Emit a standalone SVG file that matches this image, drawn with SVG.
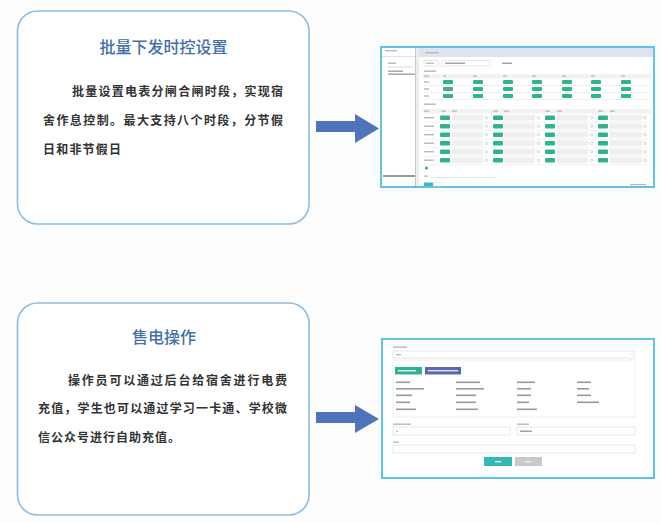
<svg xmlns="http://www.w3.org/2000/svg" xmlns:xlink="http://www.w3.org/1999/xlink" width="661" height="523" viewBox="0 0 661 523">
<style>
.card{fill:#ffffff;stroke:#8dbde3;stroke-width:1.6}
.title{font-family:"Noto Sans CJK SC","Noto Sans",sans-serif;font-size:16px;fill:#3f70aa;text-anchor:middle;font-weight:500}
.body{font-family:"Noto Sans CJK SC","Noto Sans",sans-serif;font-size:12px;fill:#333333;font-weight:700}
.arrow{fill:#4f74b9}
.frame{fill:#ffffff;stroke:#5ec3ea;stroke-width:2}
.tg{fill:#2fb48c}
.inp{fill:#efefef}
.bar{fill:#b8b8b8}
.dbar{fill:#9a9a9a}
.ln{stroke:#eeeeee;stroke-width:0.8;fill:none}
.plus{fill:none;stroke:#bbbbbb;stroke-width:0.6}
.box{fill:#ffffff;stroke:#e2e2e2;stroke-width:0.8}
</style>
<defs>
<g id="row1">
<rect class="bar" x="424" y="1.3" width="5" height="1.4"/>
<rect class="tg" x="443" y="0" width="10" height="4" rx="1"/>
<rect class="tg" x="473" y="0" width="10" height="4" rx="1"/>
<rect class="tg" x="503" y="0" width="10" height="4" rx="1"/>
<rect class="tg" x="532" y="0" width="10" height="4" rx="1"/>
<rect class="tg" x="562" y="0" width="10" height="4" rx="1"/>
<rect class="tg" x="591" y="0" width="10" height="4" rx="1"/>
<rect class="tg" x="621" y="0" width="10" height="4" rx="1"/>
<line class="ln" x1="423" y1="5.5" x2="650" y2="5.5"/>
</g>
<g id="row2">
<rect class="bar" x="424" y="1.5" width="10" height="1.4"/>
<rect class="tg" x="440" y="0" width="10" height="4.5" rx="1"/>
<rect class="inp" x="452" y="-0.5" width="31" height="5.5"/>
<circle class="plus" cx="486.5" cy="2.2" r="1.3"/>
<rect class="tg" x="493" y="0" width="10" height="4.5" rx="1"/>
<rect class="inp" x="504" y="-0.5" width="31" height="5.5"/>
<circle class="plus" cx="538.5" cy="2.2" r="1.3"/>
<rect class="tg" x="545" y="0" width="10" height="4.5" rx="1"/>
<rect class="inp" x="557" y="-0.5" width="31" height="5.5"/>
<circle class="plus" cx="591.5" cy="2.2" r="1.3"/>
<rect class="tg" x="598" y="0" width="10" height="4.5" rx="1"/>
<rect class="inp" x="610" y="-0.5" width="32" height="5.5"/>
<circle class="plus" cx="645" cy="2.2" r="1.3"/>
<line class="ln" x1="423" y1="6.7" x2="650" y2="6.7"/>
</g>
</defs>
<rect x="0" y="0" width="661" height="523" fill="#fdfdfd"/>

<g id="card1">
<rect class="card" x="17.5" y="11" width="291.5" height="213" rx="20"/>
<text class="title" x="163.5" y="53">批量下发时控设置</text>
<text class="body" x="72" y="96" textLength="211" lengthAdjust="spacing">批量设置电表分闸合闸时段，实现宿</text>
<text class="body" x="43" y="124.5" textLength="240" lengthAdjust="spacing">舍作息控制。最大支持八个时段，分节假</text>
<text class="body" x="43" y="153.5" textLength="78" lengthAdjust="spacing">日和非节假日</text>
</g>

<g id="card2">
<rect class="card" x="17.5" y="303" width="291.5" height="212" rx="20"/>
<text class="title" x="164" y="343">售电操作</text>
<text class="body" x="68" y="385" textLength="219" lengthAdjust="spacing">操作员可以通过后台给宿舍进行电费</text>
<text class="body" x="38" y="413" textLength="249" lengthAdjust="spacing">充值，学生也可以通过学习一卡通、学校微</text>
<text class="body" x="38" y="442" textLength="142" lengthAdjust="spacing">信公众号进行自助充值。</text>
</g>

<g id="connectors">
<polygon class="arrow" points="316,121 355,121 355,114 379,128.5 355,143 355,132 316,132"/>
<polygon class="arrow" points="316,412 355,412 355,405 379,419 355,433 355,423 316,423"/>
</g>

<g id="screen1">
<rect class="frame" x="381" y="47" width="273" height="140"/>
<!-- left panel -->
<rect class="bar" x="385" y="50" width="12" height="1.4"/>
<line x1="382" y1="56.5" x2="416" y2="56.5" stroke="#dddddd" stroke-width="0.8"/>
<rect class="bar" x="388" y="62.5" width="8" height="1.4"/>
<line x1="388" y1="67" x2="413" y2="67" stroke="#cfcfcf" stroke-width="0.8"/>
<rect class="dbar" x="388" y="70.5" width="15" height="1.3"/>
<rect class="dbar" x="388" y="73.5" width="27" height="1.3"/>
<rect x="415" y="48" width="1.2" height="138" fill="#c9c9c9"/>
<rect x="416.2" y="48" width="2.8" height="138" fill="#ededed"/>
<rect x="383" y="175" width="32" height="2" fill="#9a9a9a"/>
<!-- main -->
<rect x="419" y="48" width="234" height="9" fill="#dfe2f1"/>
<rect class="bar" x="425" y="52" width="14" height="1.4"/>
<rect class="box" x="424" y="60.5" width="14" height="5.5"/>
<rect class="bar" x="426" y="62.6" width="8" height="1.3"/>
<rect class="box" x="442" y="60.5" width="48" height="5.5"/>
<rect class="dbar" x="445" y="62.6" width="20" height="1.3"/>
<rect class="dbar" x="502" y="62.6" width="10" height="1.3"/>
<rect class="bar" x="424" y="70.5" width="12" height="1.4"/>
<rect x="423" y="74" width="228" height="4.5" fill="#f2f2f2"/>
<rect class="bar" x="424" y="75.5" width="5" height="1.3"/>
<rect class="bar" x="443" y="75.5" width="3" height="1.3"/>
<rect class="bar" x="473" y="75.5" width="4" height="1.3"/>
<rect class="bar" x="503" y="75.5" width="4" height="1.3"/>
<rect class="bar" x="532" y="75.5" width="4" height="1.3"/>
<rect class="bar" x="562" y="75.5" width="4" height="1.3"/>
<rect class="bar" x="591" y="75.5" width="4" height="1.3"/>
<rect class="bar" x="621" y="75.5" width="4" height="1.3"/>
<use xlink:href="#row1" href="#row1" y="80"/>
<use xlink:href="#row1" href="#row1" y="87"/>
<use xlink:href="#row1" href="#row1" y="94"/>
<rect class="bar" x="424" y="103.5" width="12" height="1.4"/>
<rect x="423" y="109" width="228" height="4.5" fill="#f2f2f2"/>
<rect class="bar" x="424" y="110.5" width="5" height="1.3"/>
<rect class="bar" x="441" y="110.5" width="5" height="1.3"/>
<rect class="bar" x="452" y="110.5" width="5" height="1.3"/>
<rect class="bar" x="493" y="110.5" width="5" height="1.3"/>
<rect class="bar" x="504" y="110.5" width="5" height="1.3"/>
<rect class="bar" x="545" y="110.5" width="5" height="1.3"/>
<rect class="bar" x="557" y="110.5" width="5" height="1.3"/>
<rect class="bar" x="598" y="110.5" width="5" height="1.3"/>
<rect class="bar" x="610" y="110.5" width="5" height="1.3"/>
<use xlink:href="#row2" href="#row2" y="115.5"/>
<use xlink:href="#row2" href="#row2" y="124"/>
<use xlink:href="#row2" href="#row2" y="132.5"/>
<use xlink:href="#row2" href="#row2" y="141"/>
<use xlink:href="#row2" href="#row2" y="149.5"/>
<use xlink:href="#row2" href="#row2" y="158"/>
<circle cx="426.5" cy="168" r="1.6" fill="#2fb48c"/>
<rect class="bar" x="424" y="175.5" width="4" height="1.3"/>
<line x1="430" y1="177.5" x2="495" y2="177.5" stroke="#e0e0e0" stroke-width="0.8"/>
<rect x="424" y="182.5" width="9" height="3.5" fill="#3bbcb3"/>
<rect x="434" y="182.5" width="8" height="3.5" fill="#ffffff" stroke="#dddddd" stroke-width="0.5"/>
<rect class="bar" x="630" y="184" width="16" height="1.2"/>
</g>

<g id="screen2">
<rect class="frame" x="382" y="339" width="272" height="139"/>
<rect class="bar" x="393" y="346.5" width="14" height="1.4"/>
<rect class="box" x="393" y="351" width="242" height="7"/>
<rect class="bar" x="396" y="354" width="5" height="1.4"/>
<path d="M631 354 l1.2 1.2 l1.2 -1.2" fill="none" stroke="#bbbbbb" stroke-width="0.6"/>
<rect x="393" y="360" width="242" height="57" fill="#ffffff" stroke="#ececec" stroke-width="0.8"/>
<rect x="395" y="367" width="27" height="7.5" fill="#2db38f"/>
<rect x="398" y="370" width="18" height="1.4" fill="#e8f8f2"/>
<rect x="425" y="367" width="36" height="7.5" fill="#5a68b8"/>
<rect x="428" y="370" width="30" height="1.4" fill="#e6e8f6"/>
<rect class="dbar" x="396" y="381.5" width="14" height="1.6"/>
<rect class="dbar" x="396" y="388" width="28" height="1.6"/>
<rect class="dbar" x="396" y="394.5" width="16" height="1.6"/>
<rect class="dbar" x="396" y="401.5" width="14" height="1.6"/>
<rect class="dbar" x="396" y="408.5" width="20" height="1.6"/>
<rect class="dbar" x="456" y="381.5" width="24" height="1.6"/>
<rect class="dbar" x="456" y="388" width="28" height="1.6"/>
<rect class="dbar" x="456" y="394.5" width="20" height="1.6"/>
<rect class="dbar" x="456" y="401.5" width="20" height="1.6"/>
<rect class="dbar" x="456" y="408.5" width="22" height="1.6"/>
<rect class="dbar" x="517" y="381.5" width="18" height="1.6"/>
<rect class="dbar" x="517" y="388" width="14" height="1.6"/>
<rect class="dbar" x="517" y="394.5" width="14" height="1.6"/>
<rect class="dbar" x="517" y="401.5" width="12" height="1.6"/>
<rect class="dbar" x="517" y="408.5" width="20" height="1.6"/>
<rect class="dbar" x="577" y="381.5" width="14" height="1.6"/>
<rect class="dbar" x="577" y="388" width="12" height="1.6"/>
<rect class="dbar" x="577" y="394.5" width="14" height="1.6"/>
<rect class="dbar" x="577" y="401.5" width="22" height="1.6"/>
<rect class="bar" x="393" y="423.5" width="18" height="1.4"/>
<rect class="bar" x="517" y="423.5" width="12" height="1.4"/>
<rect class="box" x="393" y="427" width="117" height="8"/>
<rect class="bar" x="396" y="430.5" width="2" height="1.4"/>
<rect class="box" x="517" y="427" width="118" height="8"/>
<rect class="dbar" x="520" y="430.5" width="12" height="1.4"/>
<rect class="bar" x="393" y="441.5" width="6" height="1.4"/>
<rect class="box" x="393" y="445" width="242" height="8"/>
<rect x="484" y="457" width="28" height="9" fill="#35b9b5"/>
<rect x="495" y="461" width="6" height="1.3" fill="#e6f7f6"/>
<rect x="515" y="457" width="27" height="9" fill="#c9c9c9"/>
<rect x="525" y="461" width="6" height="1.3" fill="#f0f0f0"/>
</g>
</svg>
